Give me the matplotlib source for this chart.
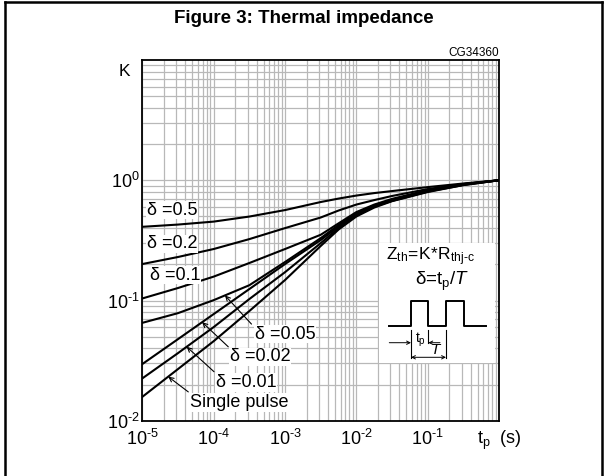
import matplotlib
matplotlib.use("Agg")
import numpy as np
import matplotlib.pyplot as plt
from matplotlib.lines import Line2D
from matplotlib.ticker import LogLocator, NullFormatter, FixedLocator, FixedFormatter

plt.rcParams["font.family"] = ["Liberation Sans", "DejaVu Sans"]
plt.rcParams["mathtext.fontset"] = "custom"
plt.rcParams["mathtext.rm"] = "Liberation Sans"
plt.rcParams["mathtext.it"] = "Liberation Sans:italic"
plt.rcParams["mathtext.bf"] = "Liberation Sans:bold"

# pulse duration tp (s)
t_p = [1e-5, 3.16e-5, 1e-4, 3.16e-4, 1e-3, 3.16e-3, 5.62e-3, 1e-2, 1.78e-2, 3.16e-2, 1e-1, 3.16e-1, 1.0]

# K factor for each duty cycle
k_05 = [0.410, 0.428, 0.453, 0.499, 0.565, 0.659, 0.704, 0.746, 0.782, 0.813, 0.877, 0.940, 1.0]
k_02 = [0.201, 0.230, 0.268, 0.324, 0.400, 0.490, 0.560, 0.628, 0.684, 0.740, 0.845, 0.929, 1.0]
k_01 = [0.104, 0.127, 0.158, 0.205, 0.268, 0.352, 0.438, 0.544, 0.628, 0.700, 0.828, 0.930, 1.0]
k_005 = [0.0652, 0.0785, 0.1007, 0.134, 0.209, 0.330, 0.424, 0.533, 0.616, 0.688, 0.821, 0.925, 1.0]
k_002 = [0.0296, 0.0477, 0.0771, 0.1245, 0.201, 0.318, 0.412, 0.524, 0.610, 0.678, 0.813, 0.920, 1.0]
k_001 = [0.0225, 0.0365, 0.0601, 0.1028, 0.172, 0.300, 0.400, 0.508, 0.604, 0.673, 0.805, 0.912, 1.0]
k_single = [0.0158, 0.0269, 0.0459, 0.0817, 0.148, 0.284, 0.389, 0.500, 0.593, 0.670, 0.798, 0.912, 1.0]

curves = [k_05, k_02, k_01, k_005, k_002, k_001, k_single]
labels = ["δ =0.5", "δ =0.2", "δ =0.1", "δ =0.05", "δ =0.02", "δ =0.01", "Single pulse"]

HY = "\u2010"  # short hyphen instead of the math minus
x_ticks = [1e-5, 1e-4, 1e-3, 1e-2, 1e-1, 1.0]
x_tick_labels = [r"$\mathregular{10^{%s5}}$" % HY, r"$\mathregular{10^{%s4}}$" % HY,
                 r"$\mathregular{10^{%s3}}$" % HY, r"$\mathregular{10^{%s2}}$" % HY,
                 r"$\mathregular{10^{%s1}}$" % HY, r"t$_\mathregular{p}$  (s)"]
y_ticks = [1e-2, 1e-1, 1.0]
y_tick_labels = [r"$\mathregular{10^{%s2}}$" % HY, r"$\mathregular{10^{%s1}}$" % HY,
                 r"$\mathregular{10^{0}}$"]

fig = plt.figure(figsize=(6.08, 4.76), dpi=100)
ax = fig.add_axes([0.234, 0.116, 0.587, 0.758])

# outer frame of the figure
for xs, ys in [([0.009, 0.990], [0.996, 0.996]), ([0.009, 0.009], [0.0, 0.996]), ([0.990, 0.990], [0.0, 0.996])]:
    fig.add_artist(Line2D(xs, ys, transform=fig.transFigure, color="black", lw=1.8))

fig.text(0.5, 0.962, "Figure 3: Thermal impedance", ha="center", va="center",
         fontsize=13.5, fontweight="bold")
fig.text(0.821, 0.889, "CG34360", ha="right", va="center", fontsize=8.5)
fig.text(0.204, 0.849, "K", ha="center", va="center", fontsize=12.5)

for k in curves:
    ax.plot(t_p, k, color="black", lw=1.5, zorder=3)

ax.set_xscale("log")
ax.set_yscale("log")
ax.set_xlim(1e-5, 1.0)
ax.set_ylim(1e-2, 10.0)

ax.xaxis.set_major_locator(FixedLocator(x_ticks))
ax.xaxis.set_major_formatter(FixedFormatter(x_tick_labels))
ax.yaxis.set_major_locator(FixedLocator(y_ticks))
ax.yaxis.set_major_formatter(FixedFormatter(y_tick_labels))
for axis in (ax.xaxis, ax.yaxis):
    axis.set_minor_locator(LogLocator(base=10, subs=np.arange(2, 10), numticks=100))
    axis.set_minor_formatter(NullFormatter())
ax.grid(True, which="both", color="#b8b8b8", lw=0.9, zorder=0)
ax.set_axisbelow(True)
ax.tick_params(which="both", length=0, labelsize=13)
ax.tick_params(axis="x", pad=6)
ax.tick_params(axis="y", pad=2)
for s in ax.spines.values():
    s.set_linewidth(1.3)

# curve labels
label_pos = [(0.012, 0.584), (0.012, 0.490), (0.022, 0.404), (0.316, 0.240),
             (0.246, 0.177), (0.206, 0.106), (0.134, 0.051)]
box = dict(facecolor="white", edgecolor="none", pad=0.5)
for lab, (fx, fy) in zip(labels, label_pos):
    ax.text(fx, fy, lab, transform=ax.transAxes, ha="left", va="center",
            fontsize=13, bbox=box, zorder=4)

# arrows from labels to curves
tip_x = [1.44e-4, 6.9e-5, 4.19e-5, 2.31e-5]
tails = [(0.306, 0.268), (0.241, 0.205), (0.201, 0.136), (0.129, 0.080)]
for k, tx, (fx, fy) in zip(curves[3:], tip_x, tails):
    ty = 10 ** np.interp(np.log10(tx), np.log10(t_p), np.log10(k))
    ax.annotate("", xy=(tx, ty), xycoords="data", xytext=(fx, fy), textcoords="axes fraction",
                arrowprops=dict(arrowstyle="->", lw=0.8, color="black", shrinkA=0, shrinkB=0,
                                mutation_scale=8), zorder=4)

# inset with formula and pulse diagram (pixel coordinates)
ins = fig.add_axes([378.5 / 608, 1 - 363.3 / 476, 116.5 / 608, 120 / 476])
ins.set_xlim(378.5, 495)
ins.set_ylim(363.3, 243.3)
ins.axis("off")
ins.add_patch(plt.Rectangle((378.5, 243.3), 116.5, 120, facecolor="white", edgecolor="none"))
ins.text(431, 257, r"$\mathregular{Z_{th}\!=\!K\!*\!R_{thj%sc}}$" % HY, ha="center", va="center",
         fontsize=12.5)
ins.text(442, 281, r"δ=t$_\mathregular{p}$/$\mathit{T}$", ha="center", va="center", fontsize=13.5)
wave_x = [389.3, 411, 411, 428.3, 428.3, 446, 446, 464, 464, 485.7]
wave_y = [326, 326, 300.7, 300.7, 326, 326, 300.7, 300.7, 326, 326]
ins.plot(wave_x, wave_y, color="black", lw=1.4)
for xv, y0, y1 in [(411, 330, 358.3), (428.3, 330, 343.3), (446, 330, 358.3)]:
    ins.plot([xv, xv], [y0, y1], color="black", lw=0.8)
arrow = dict(arrowstyle="->", lw=0.7, color="black", shrinkA=0, shrinkB=0, mutation_scale=6)
ins.annotate("", xy=(411, 342.7), xytext=(389.3, 342.7), arrowprops=arrow)
ins.annotate("", xy=(428.3, 342.7), xytext=(440, 342.7), arrowprops=arrow)
ins.annotate("", xy=(446, 357.3), xytext=(411, 357.3),
             arrowprops=dict(arrow, arrowstyle="<->"))
ins.text(420, 340, r"t$_\mathregular{p}$", ha="center", va="center", fontsize=10)
ins.text(436.5, 350.5, r"$\mathit{T}$", ha="center", va="center", fontsize=11)

fig.savefig("out.png", dpi=100)
